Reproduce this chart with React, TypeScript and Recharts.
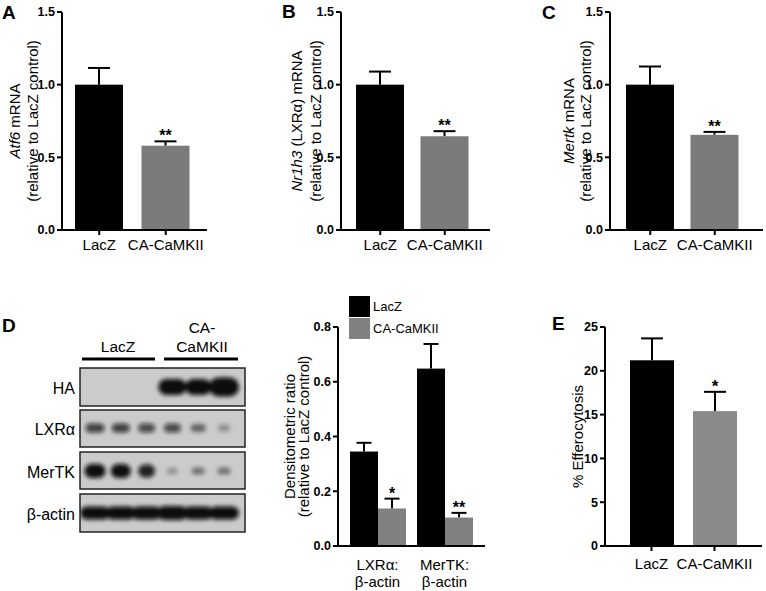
import React from 'react';
import { BarChart, Bar, XAxis, YAxis, Legend, Label } from 'recharts';

const FONT = '"Liberation Sans", Arial, Helvetica, sans-serif';
const BLACK = '#000000';
const GRAY = '#7b7b7b';
const GRAY_D = '#808080';
const GRAY_E = '#8a8a8a';

// A-C: mRNA relative to LacZ
const GROUPS = ['LacZ', 'CA-CaMKII'];
const ATF6 = [1.0, 0.58];
const ATF6_ERR = [0.115, 0.03];
const NR1H3 = [1.0, 0.645];
const NR1H3_ERR = [0.09, 0.035];
const MERTK = [1.0, 0.655];
const MERTK_ERR = [0.125, 0.02];
const MRNA_SIG = ['', '**'];
const MRNA_TICKS = [0, 0.5, 1.0, 1.5];

// D: densitometry
const DENS_CATS = ['LXRα:\nβ-actin', 'MerTK:\nβ-actin'];
const DENS_LACZ = [0.345, 0.648];
const DENS_LACZ_ERR = [0.032, 0.09];
const DENS_CA = [0.137, 0.104];
const DENS_CA_ERR = [0.036, 0.017];
const DENS_SIG = ['*', '**'];
const DENS_TICKS = [0, 0.2, 0.4, 0.6, 0.8];

// E: efferocytosis
const EFF = [21.2, 15.4];
const EFF_ERR = [2.5, 2.2];
const EFF_SIG = ['', '*'];
const EFF_TICKS = [0, 5, 10, 15, 20, 25];

// D: western blot band strengths, 3 LacZ lanes then 3 CA-CaMKII lanes
const BLOT_ROWS = ['HA', 'LXRα', 'MerTK', 'β-actin'];
const HA_BANDS = [0, 0, 0, 1, 1, 1];
const LXR_BANDS = [0.75, 0.75, 0.7, 0.7, 0.5, 0.3];
const MERTK_BANDS = [1, 1, 0.9, 0.3, 0.45, 0.45];
const ACTIN_BANDS = [1, 1, 1, 1, 1, 1];

const axisStroke = { stroke: '#000', strokeWidth: 2 };

function ErrShape(props: any) {
  const { x, y, width, height, fill, index, payload, valKey, errKey, sigKey, cap, starSize, colors } = props;
  const v = payload[valKey];
  const k = v ? height / v : 0;
  const top = y - payload[errKey] * k;
  const cx = x + width / 2;
  const color = colors ? colors[index] : fill;
  const sig = payload[sigKey];
  return (
    <g>
      <line x1={cx} x2={cx} y1={y} y2={top} stroke="#000" strokeWidth={2} />
      <line x1={cx - cap / 2} x2={cx + cap / 2} y1={top} y2={top} stroke="#000" strokeWidth={2} />
      <rect x={x} y={y} width={width} height={height} fill={color} />
      {sig ? (
        <text x={cx} y={top} textAnchor="middle" fontSize={starSize} fontWeight="bold" fontFamily={FONT} fill="#000">
          {sig}
        </text>
      ) : null}
    </g>
  );
}

function AxisTitle({ viewBox, lines, xs, fallbackY }: any) {
  const cy = viewBox && viewBox.height ? viewBox.y + viewBox.height / 2 : fallbackY;
  return (
    <g>
      {lines.map((l: any, i: number) => (
        <text
          key={i}
          transform={`translate(${xs[i]},${cy}) rotate(-90)`}
          textAnchor="middle"
          fontSize={15}
          fontFamily={FONT}
          fill="#000"
        >
          {l}
        </text>
      ))}
    </g>
  );
}

const yTick = { fill: '#000', fontSize: 12.5, fontWeight: 'bold', fontFamily: FONT };
const xTick = { fill: '#000', fontSize: 15, fontFamily: FONT };

function MrnaPanel({ left, width, yw, vals, errs, lines, xs, padding }: any) {
  const data = GROUPS.map((name, i) => ({ name, value: vals[i], err: errs[i], sig: MRNA_SIG[i] }));
  return (
    <div style={{ position: 'absolute', left, top: 0 }}>
      <BarChart width={width} height={260} data={data} margin={{ top: 12, right: 3, left: 0, bottom: 0 }}>
        <XAxis
          dataKey="name"
          height={30}
          padding={padding}
          interval={0}
          axisLine={axisStroke}
          tickLine={axisStroke}
          tickSize={5}
          tickMargin={4}
          tick={xTick}
        />
        <YAxis
          width={yw}
          domain={[0, 1.5]}
          ticks={MRNA_TICKS}
          tickFormatter={(v) => v.toFixed(1)}
          axisLine={axisStroke}
          tickLine={axisStroke}
          tickSize={5}
          tickMargin={2}
          tick={yTick}
        >
          <Label content={(p: any) => <AxisTitle {...p} lines={lines} xs={xs} fallbackY={121} />} />
        </YAxis>
        <Bar
          dataKey="value"
          barSize={48}
          isAnimationActive={false}
          shape={(p: any) => (
            <ErrShape {...p} valKey="value" errKey="err" sigKey="sig" cap={22} starSize={16} colors={[BLACK, GRAY]} />
          )}
        />
      </BarChart>
    </div>
  );
}

function TwoLineTick({ x, y, payload }: any) {
  const parts = String(payload.value).split('\n');
  return (
    <text x={x} y={y} textAnchor="middle" fontSize={15} fontFamily={FONT} fill="#000">
      {parts.map((t, i) => (
        <tspan key={i} x={x} dy={i === 0 ? '0.71em' : 17}>
          {t}
        </tspan>
      ))}
    </text>
  );
}

function LegendBox({ payload }: any) {
  const items = GROUPS.map((g) => (payload || []).find((e: any) => e.value === g)).filter(Boolean);
  return (
    <div style={{ fontFamily: FONT, fontSize: 13, color: '#000' }}>
      {items.map((e: any, i: number) => (
        <div key={i} style={{ display: 'flex', alignItems: 'center', height: 21, marginBottom: 1 }}>
          <div style={{ width: 21, height: 21, background: e.color }} />
          <span style={{ marginLeft: 3 }}>{e.value}</span>
        </div>
      ))}
    </div>
  );
}

function DensPanel() {
  const data = DENS_CATS.map((name, i) => ({
    name,
    lacz: DENS_LACZ[i],
    laczErr: DENS_LACZ_ERR[i],
    ca: DENS_CA[i],
    caErr: DENS_CA_ERR[i],
    sig: DENS_SIG[i],
  }));
  return (
    <div style={{ position: 'absolute', left: 268, top: 300 }}>
      <BarChart width={220} height={291} data={data} barGap={0} margin={{ top: 27, right: 3, left: 0, bottom: 0 }}>
        <XAxis
          dataKey="name"
          height={45}
          padding={{ left: 6, right: 7 }}
          interval={0}
          axisLine={axisStroke}
          tickLine={false}
          tickSize={5}
          tickMargin={8}
          tick={<TwoLineTick />}
        />
        <YAxis
          width={70}
          domain={[0, 0.8]}
          ticks={DENS_TICKS}
          tickFormatter={(v) => v.toFixed(1)}
          axisLine={axisStroke}
          tickLine={axisStroke}
          tickSize={5}
          tickMargin={2}
          tick={yTick}
        >
          <Label
            content={(p: any) => (
              <AxisTitle {...p} lines={['Densitometric ratio', '(relative to LacZ control)']} xs={[27, 41]} fallbackY={136} />
            )}
          />
        </YAxis>
        <Legend
          layout="horizontal"
          verticalAlign="middle"
          align="center"
          wrapperStyle={{ left: 81, top: -4, width: 130, height: 44 }}
          content={(p: any) => <LegendBox payload={p.payload} />}
        />
        <Bar
          dataKey="lacz"
          name="LacZ"
          fill={BLACK}
          barSize={28}
          isAnimationActive={false}
          shape={(p: any) => <ErrShape {...p} valKey="lacz" errKey="laczErr" sigKey="none" cap={15} starSize={16} />}
        />
        <Bar
          dataKey="ca"
          name="CA-CaMKII"
          fill={GRAY_D}
          barSize={28}
          isAnimationActive={false}
          shape={(p: any) => <ErrShape {...p} valKey="ca" errKey="caErr" sigKey="sig" cap={15} starSize={16} />}
        />
      </BarChart>
    </div>
  );
}

function EffPanel() {
  const data = GROUPS.map((name, i) => ({ name, value: EFF[i], err: EFF_ERR[i], sig: EFF_SIG[i] }));
  return (
    <div style={{ position: 'absolute', left: 530, top: 300 }}>
      <BarChart width={234} height={291} data={data} margin={{ top: 27, right: 2, left: 0, bottom: 0 }}>
        <XAxis
          dataKey="name"
          height={45}
          padding={{ left: 15, right: 16 }}
          interval={0}
          axisLine={axisStroke}
          tickLine={axisStroke}
          tickSize={5}
          tickMargin={7}
          tick={xTick}
        />
        <YAxis
          width={75}
          domain={[0, 25]}
          ticks={EFF_TICKS}
          axisLine={axisStroke}
          tickLine={axisStroke}
          tickSize={5}
          tickMargin={2}
          tick={yTick}
        >
          <Label content={(p: any) => <AxisTitle {...p} lines={['% Efferocytosis']} xs={[53]} fallbackY={136} />} />
        </YAxis>
        <Bar
          dataKey="value"
          barSize={44}
          isAnimationActive={false}
          shape={(p: any) => (
            <ErrShape {...p} valKey="value" errKey="err" sigKey="sig" cap={22} starSize={17} colors={[BLACK, GRAY_E]} />
          )}
        />
      </BarChart>
    </div>
  );
}

function Blot() {
  const x0 = 80;
  const w = 165;
  const lane = (i: number) => x0 + 15 + i * 25.8;
  const rows = [
    { top: 368, h: 38, cy: 387, bands: HA_BANDS, bw: [0, 0, 0, 28, 26, 30], bh: [0, 0, 0, 16, 16, 19] },
    { top: 410, h: 37, cy: 428, bands: LXR_BANDS, bw: [19, 18, 17, 17, 15, 12], bh: [9, 9, 9, 9, 8, 7] },
    { top: 452, h: 37, cy: 471, bands: MERTK_BANDS, bw: [21, 20, 17, 11, 13, 13], bh: [14, 14, 13, 6, 7, 7] },
    { top: 494, h: 38, cy: 513, bands: ACTIN_BANDS, bw: [30, 30, 30, 30, 30, 30], bh: [13, 13, 13, 14, 13, 13] },
  ];
  return (
    <g>
      <defs>
        <filter id="blur" x="-30%" y="-60%" width="160%" height="220%">
          <feGaussianBlur stdDeviation="2" />
        </filter>
        {rows.map((r, j) => (
          <clipPath key={j} id={`clip${j}`}>
            <rect x={x0} y={r.top} width={w} height={r.h} />
          </clipPath>
        ))}
      </defs>
      <text x={118} y={352} textAnchor="middle" fontSize={15.5} fontFamily={FONT}>LacZ</text>
      <text x={202} y={333} textAnchor="middle" fontSize={15.5} fontFamily={FONT}>CA-</text>
      <text x={202} y={352} textAnchor="middle" fontSize={15.5} fontFamily={FONT}>CaMKII</text>
      <line x1={82} x2={155} y1={359} y2={359} stroke="#000" strokeWidth={3} />
      <line x1={164} x2={238} y1={359} y2={359} stroke="#000" strokeWidth={3} />
      {rows.map((r, j) => (
        <g key={j}>
          <text x={75} y={r.cy + 7} textAnchor="end" fontSize={16} fontFamily={FONT}>{BLOT_ROWS[j]}</text>
          <rect x={x0} y={r.top} width={w} height={r.h} fill="#cbcbcb" />
          <g clipPath={`url(#clip${j})`} filter="url(#blur)">
            {r.bands.map((b, i) =>
              b > 0 ? (
                <rect
                  key={i}
                  x={lane(i) - r.bw[i] / 2}
                  y={r.cy - r.bh[i] / 2}
                  width={r.bw[i]}
                  height={r.bh[i]}
                  rx={r.bh[i] / 2}
                  fill="#0a0a0a"
                  fillOpacity={b}
                />
              ) : null
            )}
          </g>
          <rect x={x0} y={r.top} width={w} height={r.h} fill="none" stroke="#222" strokeWidth={1.5} />
        </g>
      ))}
    </g>
  );
}

export default function App() {
  return (
    <div style={{ position: 'absolute', left: 0, top: 0, width: 766, height: 591, background: '#fff', overflow: 'hidden' }}>
      <svg width={766} height={591} style={{ position: 'absolute', left: 0, top: 0 }}>
        <g fontFamily={FONT} fontWeight="bold" fontSize={19} fill="#000">
          <text x={2} y={19}>A</text>
          <text x={282} y={18}>B</text>
          <text x={542} y={19}>C</text>
          <text x={2} y={332}>D</text>
          <text x={552} y={330}>E</text>
        </g>
        <Blot />
      </svg>
      <MrnaPanel
        left={0}
        width={210}
        yw={62}
        vals={ATF6}
        errs={ATF6_ERR}
        lines={[<><tspan fontStyle="italic">Atf6</tspan> mRNA</>, '(relative to LacZ control)']}
        xs={[20, 38]}
        padding={{ left: 4, right: 8 }}
      />
      <MrnaPanel
        left={250}
        width={243}
        yw={91}
        vals={NR1H3}
        errs={NR1H3_ERR}
        lines={[<><tspan fontStyle="italic">Nr1h3</tspan> (LXRα) mRNA</>, '(relative to LacZ control)']}
        xs={[52, 71]}
        padding={{ left: 7, right: 13 }}
      />
      <MrnaPanel
        left={510}
        width={256}
        yw={100}
        vals={MERTK}
        errs={MERTK_ERR}
        lines={[<><tspan fontStyle="italic">Mertk</tspan> mRNA</>, '(relative to LacZ control)']}
        xs={[64, 81]}
        padding={{ left: 8, right: 16 }}
      />
      <DensPanel />
      <EffPanel />
    </div>
  );
}
